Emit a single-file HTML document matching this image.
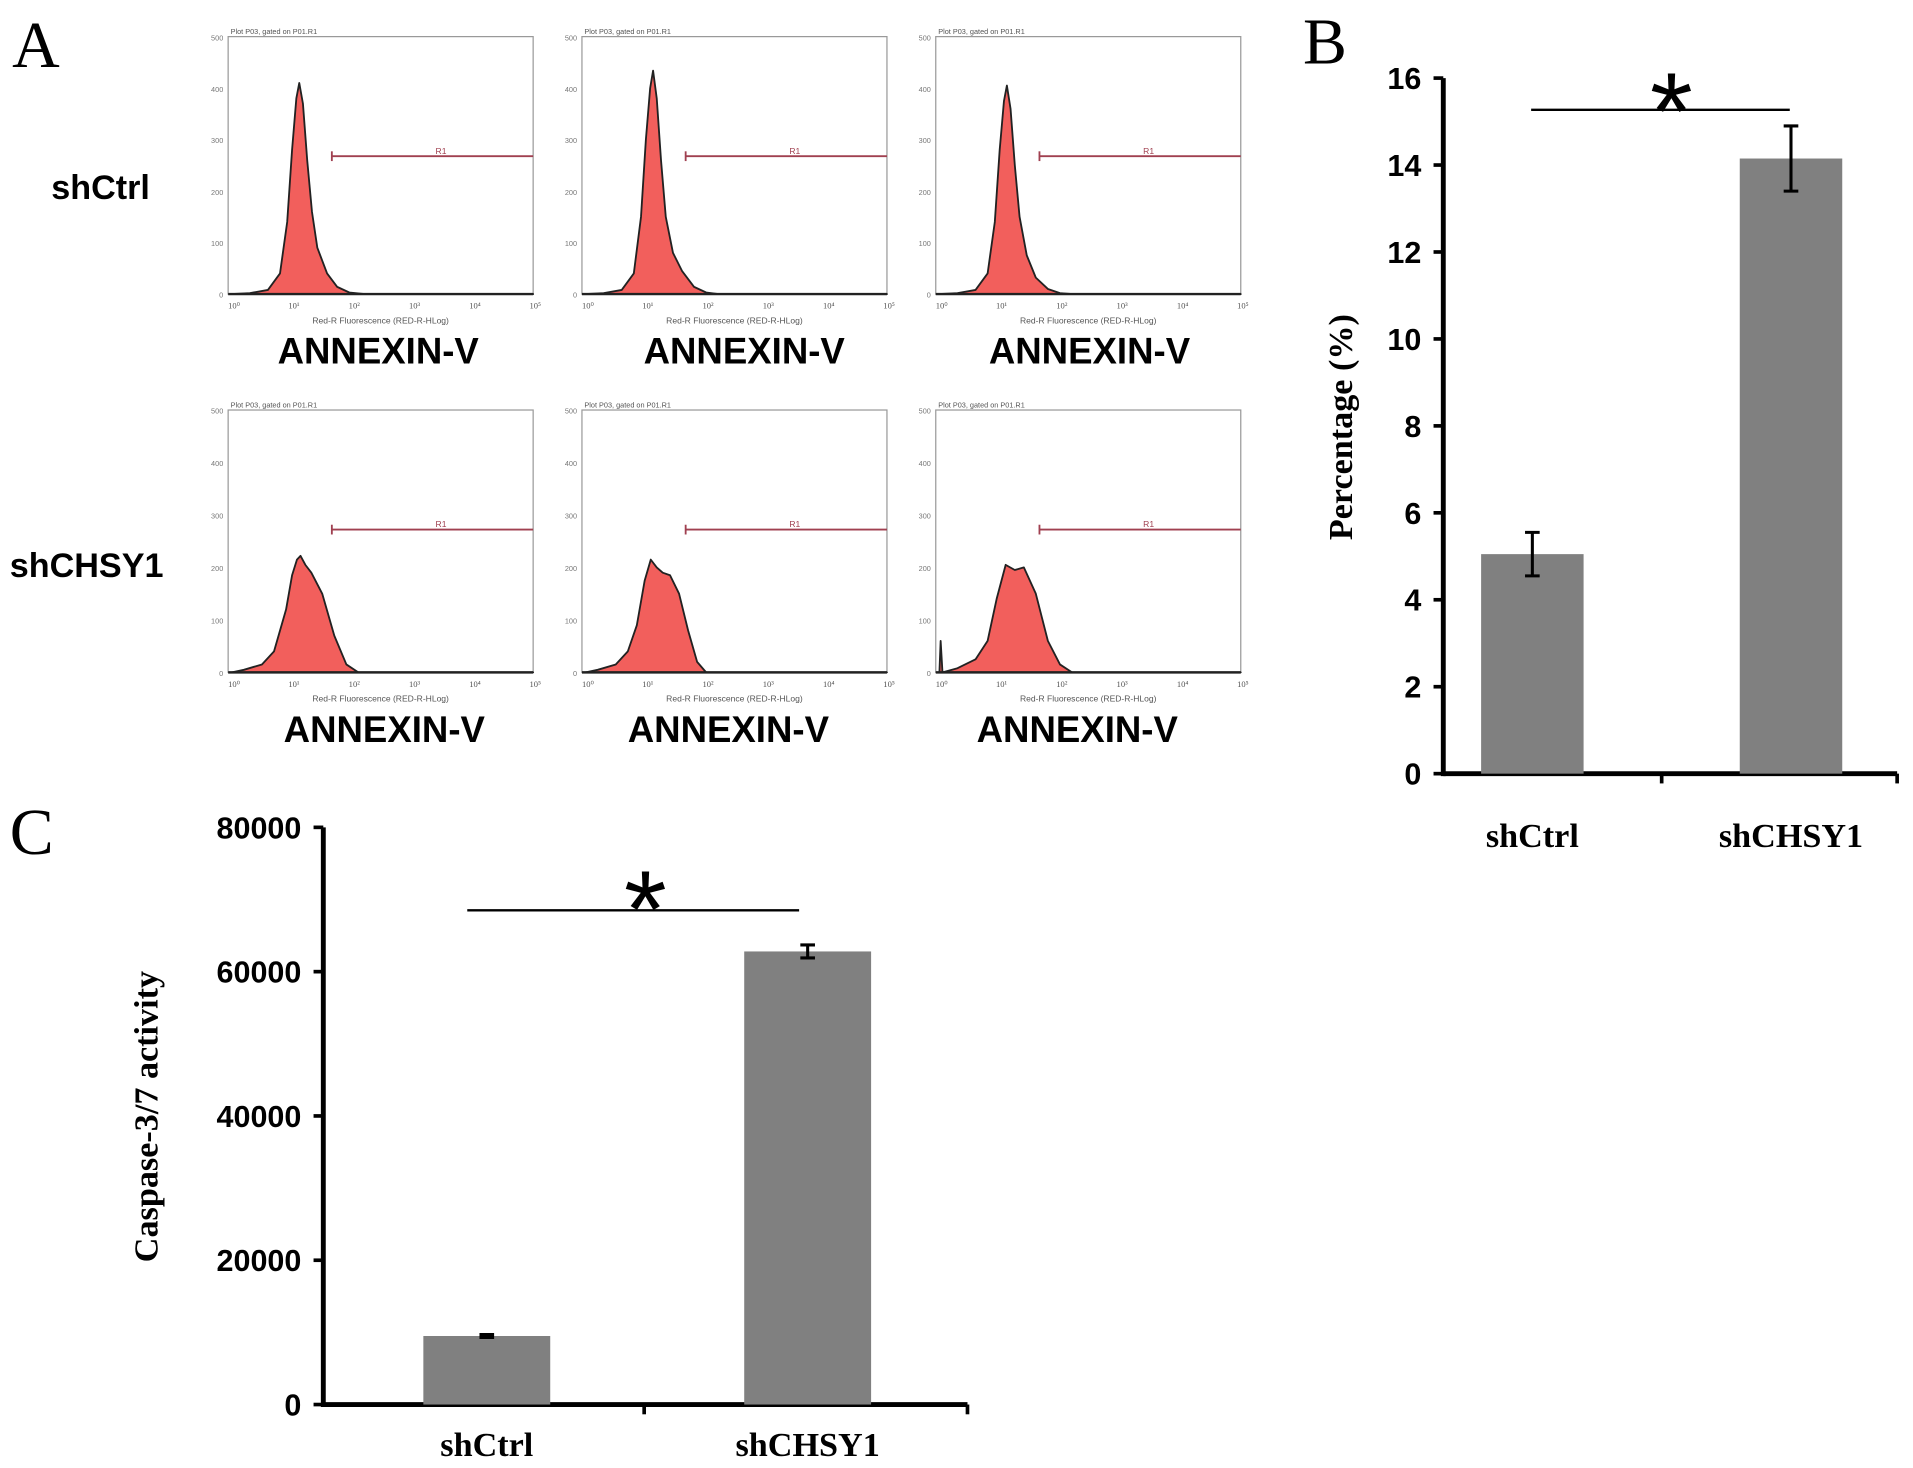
<!DOCTYPE html>
<html><head><meta charset="utf-8"><style>
html,body{margin:0;padding:0;background:#fff;}
svg{display:block;}
</style></head><body>
<svg id="fig" width="1913" height="1468" viewBox="0 0 1568 1203" preserveAspectRatio="none" xmlns="http://www.w3.org/2000/svg">
<rect width="1568" height="1203" fill="#fff"/>
<g id="panelA"></g>
<g id="panelB"></g>
<g id="panelC"></g>
</svg>
<script>
// Panel A histogram data (decade position, count)
const histTop1 = [[0,0],[0.3,2],[0.6,8],[0.8,40],[0.92,140],[1.0,280],[1.07,380],[1.12,410],[1.18,370],[1.25,260],[1.33,160],[1.42,90],[1.58,40],[1.75,14],[1.95,3],[2.2,0]];
const histTop2 = [[0,0],[0.3,2],[0.6,8],[0.8,40],[0.92,150],[1.0,300],[1.07,400],[1.12,434],[1.18,380],[1.25,260],[1.33,150],[1.45,80],[1.6,45],[1.8,14],[2.0,3],[2.2,0]];
const histTop3 = [[0,0],[0.3,2],[0.6,8],[0.8,40],[0.92,140],[1.0,280],[1.07,375],[1.12,405],[1.18,360],[1.25,250],[1.33,150],[1.45,75],[1.6,32],[1.8,10],[2.0,2],[2.2,0]];
const histBot1 = [[0,0],[0.2,5],[0.5,15],[0.7,40],[0.9,120],[1.0,185],[1.08,215],[1.14,222],[1.22,205],[1.32,190],[1.5,150],[1.7,70],[1.9,15],[2.1,0]];
const histBot2 = [[0,0],[0.2,5],[0.5,15],[0.7,40],[0.85,90],[0.98,175],[1.08,215],[1.18,200],[1.28,190],[1.4,185],[1.55,150],[1.7,80],[1.85,20],[2.0,0]];
const histBot3 = [[0,0],[0.02,60],[0.05,0],[0.3,8],[0.6,25],[0.8,60],[0.95,140],[1.1,205],[1.25,195],[1.4,200],[1.6,150],[1.8,60],[2.0,15],[2.2,0]];
// Panel B data
const catsB = ["shCtrl","shCHSY1"];
const valsB = [5.05, 14.15];
const errB = [0.5, 0.75];
const ticksB = [0,2,4,6,8,10,12,14,16];
// Panel C data
const catsC = ["shCtrl","shCHSY1"];
const valsC = [9500, 62800];
const errC = [200, 900];
const ticksC = [0,20000,40000,60000,80000];

const NS="http://www.w3.org/2000/svg";
function mk(parent,tag,attrs,text){const e=document.createElementNS(NS,tag);for(const k in attrs)e.setAttribute(k,attrs[k]);if(text!==undefined)e.textContent=text;parent.appendChild(e);return e;}

// ---- Panel A
const A=document.getElementById('panelA');
let t=mk(A,'text',{x:10,y:55,'font-family':'Liberation Serif, serif','font-size':54});t.textContent='A';


t=mk(A,'text',{x:42,y:163,'font-family':'Liberation Sans, sans-serif','font-size':28,'font-weight':'bold'},'shCtrl');


t=mk(A,'text',{x:8,y:473,'font-family':'Liberation Sans, sans-serif','font-size':28,'font-weight':'bold'},'shCHSY1');


const cols=[187,477,767];
const rows=[{top:30,base:241,label:298},{top:336,base:551,label:608}];
const hists=[[histTop1,histTop2,histTop3],[histBot1,histBot2,histBot3]];
const labelX=[[310,610,893],[315,597,883]];
rows.forEach((r,ri)=>{cols.forEach((cx,ci)=>{
  const g=mk(A,'g',{});
  
  
  const x0=cx+3,x1=cx+250;
  const xs=d=>x0+(x1-x0)*d/5, ys=c=>r.base-(r.base-r.top)*c/500;
  mk(g,'rect',{x:cx,y:r.top,width:250,height:r.base-r.top,fill:'none',stroke:'#999','stroke-width':1});
  const h=hists[ri][ci];
  let d='M'+xs(0)+','+ys(0);h.forEach(p=>d+=' L'+xs(p[0]).toFixed(1)+','+ys(p[1]).toFixed(1));d+=' L'+xs(5)+','+ys(0)+' Z';
  const p=mk(g,'path',{d:d,fill:'#f25f5c',stroke:'#222','stroke-width':1.5,'stroke-linejoin':'round'});
  
  
  mk(g,'line',{x1:cx,y1:r.base,x2:cx+250,y2:r.base,stroke:'#222','stroke-width':2});
  const gy=r.top+98;
  mk(g,'line',{x1:cx+85,y1:gy,x2:cx+250,y2:gy,stroke:'#a04050','stroke-width':1.5});
  mk(g,'line',{x1:cx+85,y1:gy-4,x2:cx+85,y2:gy+4,stroke:'#a04050','stroke-width':1.5});
  mk(g,'text',{x:cx+170,y:gy-2,'font-size':7,fill:'#a04050','font-family':'Liberation Sans, sans-serif'},'R1');
  mk(g,'text',{x:cx+2,y:r.top-2,'font-size':6,fill:'#555','font-family':'Liberation Sans, sans-serif'},'Plot P03, gated on P01.R1');
  for(let k=0;k<=5;k++){mk(g,'text',{x:xs(k)-3,y:r.base+12,'font-size':7,fill:'#555','font-family':'Liberation Serif, serif'},'10'+['⁰','¹','²','³','⁴','⁵'][k]);}
  mk(g,'text',{x:cx+125,y:r.base+24,'font-size':7,fill:'#555','text-anchor':'middle','font-family':'Liberation Sans, sans-serif'},'Red-R Fluorescence (RED-R-HLog)');
  for(let k=0;k<=5;k++){mk(g,'text',{x:cx-4,y:ys(k*100)+3,'font-size':6,fill:'#777','text-anchor':'end','font-family':'Liberation Sans, sans-serif'},String(k*100));}
  const lab=mk(A,'text',{x:labelX[ri][ci],y:r.label,'text-anchor':'middle','font-family':'Liberation Sans, sans-serif','font-size':30,'font-weight':'bold'},'ANNEXIN-V');
  
  
});});

// ---- bar chart helper
function barChart(G,cfg){
  const ys=v=>cfg.y0-(cfg.y0-cfg.y1)*(v-cfg.min)/(cfg.max-cfg.min);
  mk(G,'line',{x1:cfg.ax,y1:cfg.y1,x2:cfg.ax,y2:cfg.y0+2,stroke:'#000','stroke-width':4});
  mk(G,'line',{x1:cfg.ax,y1:cfg.y0,x2:cfg.xEnd,y2:cfg.y0,stroke:'#000','stroke-width':4});
  cfg.ticks.forEach(tv=>{
    mk(G,'line',{x1:cfg.ax-8,y1:ys(tv),x2:cfg.ax,y2:ys(tv),stroke:'#000','stroke-width':3});
    const tl=mk(G,'text',{x:cfg.ax-18,y:ys(tv)+9,'text-anchor':'end','font-family':'Liberation Sans, sans-serif','font-size':25,'font-weight':'bold'},String(tv));
    
    
  });
  cfg.xTicks.forEach(x=>mk(G,'line',{x1:x,y1:cfg.y0,x2:x,y2:cfg.y0+8,stroke:'#000','stroke-width':3}));
  cfg.cats.forEach((c,i)=>{
    const cx=cfg.centers[i];
    const b=mk(G,'rect',{x:cx-cfg.bw/2,y:ys(cfg.vals[i]),width:cfg.bw,height:cfg.y0-ys(cfg.vals[i]),fill:'#808080'});
    
    
    const hi=ys(cfg.vals[i]+cfg.errs[i]),lo=ys(cfg.vals[i]-cfg.errs[i]);
    const eb=mk(G,'path',{d:`M${cx},${hi}L${cx},${lo}M${cx-6},${hi}L${cx+6},${hi}M${cx-6},${lo}L${cx+6},${lo}`,stroke:'#000','stroke-width':2.5,fill:'none'});
    
    
    const xl=mk(G,'text',{x:cx,y:cfg.y0+cfg.labDy,'text-anchor':'middle','font-family':'Liberation Serif, serif','font-size':28,'font-weight':'bold'},c);
    
    
  });
  const sl=mk(G,'line',{x1:cfg.sig[0],y1:cfg.sig[2],x2:cfg.sig[1],y2:cfg.sig[2],stroke:'#000','stroke-width':2});
  
  
  const st=mk(G,'text',{x:(cfg.sig[0]+cfg.sig[1])/2+cfg.starDx,y:cfg.sig[2]+cfg.starDy,'text-anchor':'middle','font-family':'Liberation Sans, sans-serif','font-size':90},'*');
  
  
  const yt=mk(G,'text',{x:0,y:0,transform:`translate(${cfg.titleX},${cfg.titleY}) rotate(-90)`,'text-anchor':'middle','font-family':'Liberation Serif, serif','font-size':28,'font-weight':'bold'},cfg.title);
  
  
}

const B=document.getElementById('panelB');
t=mk(B,'text',{x:1068,y:52,'font-family':'Liberation Serif, serif','font-size':54},'B');


barChart(B,{ax:1183,y0:634,y1:64,min:0,max:16,xEnd:1555,ticks:ticksB,xTicks:[1362,1555],cats:catsB,vals:valsB,errs:errB,centers:[1256,1468],bw:84,labDy:60,sig:[1255,1467,90],starDx:9,starDy:32,title:'Percentage (%)',titleX:1108,titleY:350});

const C=document.getElementById('panelC');
t=mk(C,'text',{x:8,y:700,'font-family':'Liberation Serif, serif','font-size':54},'C');


barChart(C,{ax:265,y0:1151,y1:678,min:0,max:80000,xEnd:793,ticks:ticksC,xTicks:[528,793],cats:catsC,vals:valsC,errs:errC,centers:[399,662],bw:104,labDy:42,sig:[383,655,746],starDx:10,starDy:30,title:'Caspase-3/7 activity',titleX:129,titleY:915});
</script>
</body></html>
